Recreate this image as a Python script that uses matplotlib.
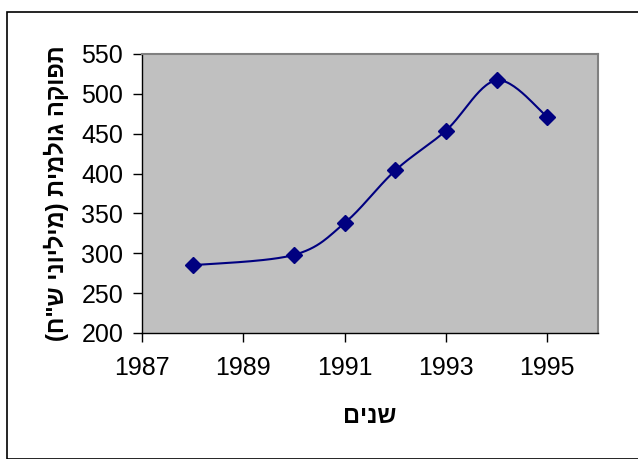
import numpy as np
import matplotlib
matplotlib.use("Agg")
import matplotlib.pyplot as plt
from matplotlib.patches import Rectangle

years = [1988, 1990, 1991, 1992, 1993, 1994, 1995]
output = [285, 298, 338, 404, 454, 517, 471]
xticks = [1987, 1989, 1991, 1993, 1995]
yticks = [200, 250, 300, 350, 400, 450, 500, 550]
ylabel_logical = 'תפוקה גולמית (מיליוני ש"ח)'
xlabel_logical = 'שנים'

def visual(s):
    r = s[::-1]
    return r.translate(str.maketrans('()', ')('))

def smooth(x, y, n=30):
    x = np.asarray(x, float); y = np.asarray(y, float)
    px = np.concatenate([[x[0]], x, [x[-1]]])
    py = np.concatenate([[y[0]], y, [y[-1]]])
    xs, ys = [], []
    t = np.linspace(0, 1, n)
    for i in range(1, len(px) - 2):
        p0 = np.array([px[i], py[i]]); p3 = np.array([px[i+1], py[i+1]])
        p1 = p0 + (np.array([px[i+1], py[i+1]]) - np.array([px[i-1], py[i-1]])) / 6
        p2 = p3 - (np.array([px[i+2], py[i+2]]) - np.array([px[i], py[i]])) / 6
        b = ((1-t)**3)[:, None]*p0 + (3*(1-t)**2*t)[:, None]*p1 + (3*(1-t)*t**2)[:, None]*p2 + (t**3)[:, None]*p3
        xs.append(b[:, 0]); ys.append(b[:, 1])
    return np.concatenate(xs), np.concatenate(ys)

plt.rcParams['font.family'] = ['Liberation Sans', 'DejaVu Sans']

W, H = 638, 459
fig = plt.figure(figsize=(W/100, H/100), dpi=100)
fig.patches.append(Rectangle((7/W, 0), 1, 1 - 12/H, transform=fig.transFigure,
                             fill=False, edgecolor='black', linewidth=1.2))

left, right, top, bottom = 142, 598, 54, 333
ax = fig.add_axes([left/W, 1 - bottom/H, (right-left)/W, (bottom-top)/H])
ax.set_facecolor('#c0c0c0')
for s in ax.spines.values():
    s.set_color('#808080')
    s.set_linewidth(1.5)
ax.spines['left'].set_color('black'); ax.spines['left'].set_linewidth(1)
ax.spines['bottom'].set_color('black'); ax.spines['bottom'].set_linewidth(1)

sx, sy = smooth(years, output)
ax.plot(sx, sy, color='#000080', linewidth=1.5)
ax.plot(years, output, linestyle='none', marker='D', markersize=8.5,
        color='#000080')

ax.set_xlim(1987, 1996)
ax.set_ylim(200, 550)
ax.set_xticks(xticks)
ax.set_yticks(yticks)
ax.tick_params(axis='both', direction='out', length=6.5, width=1, labelsize=18,
               colors='black')
ax.tick_params(axis='x', pad=10)
ax.tick_params(axis='y', pad=7)

ax.set_xlabel(visual(xlabel_logical), fontsize=17, fontweight='bold',
              family=['Liberation Sans'], labelpad=18)
ax.set_ylabel(visual(ylabel_logical), fontsize=17, fontweight='bold',
              family=['Liberation Sans'], labelpad=9)

fig.savefig('out.png', dpi=100)
